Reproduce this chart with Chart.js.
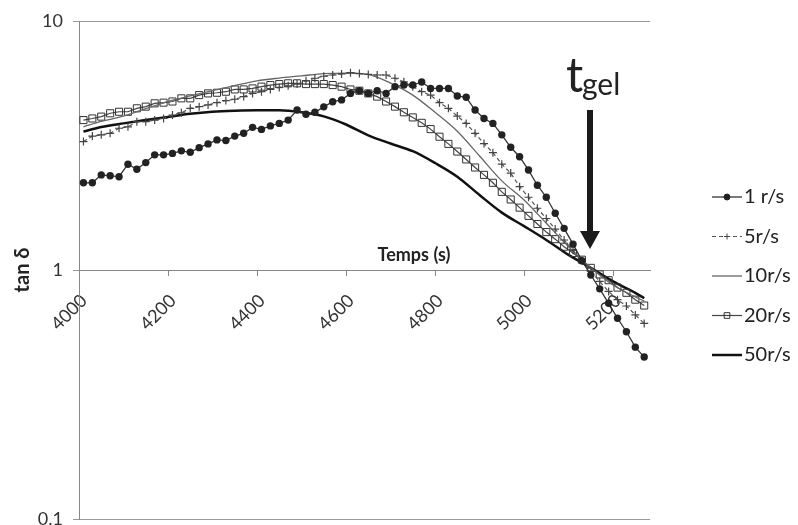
<!DOCTYPE html>
<html>
<head>
<meta charset="utf-8">
<script src="https://cdn.jsdelivr.net/npm/chart.js@4/dist/chart.umd.min.js"></script>
<style>
  body { margin: 0; background: #fff; }
  #wrap { width: 798px; height: 525px; }
</style>
</head>
<body>
<div id="wrap"><canvas id="myChart" width="798" height="525"></canvas></div>
<script>
// time axis (s) for the marked series, one point every 20 s
const times = [4010, 4030, 4050, 4070, 4090, 4110, 4130, 4150, 4170, 4190,
    4210, 4230, 4250, 4270, 4290, 4310, 4330, 4350, 4370, 4390,
    4410, 4430, 4450, 4470, 4490, 4510, 4530, 4550, 4570, 4590,
    4610, 4630, 4650, 4670, 4690, 4710, 4730, 4750, 4770, 4790,
    4810, 4830, 4850, 4870, 4890, 4910, 4930, 4950, 4970, 4990,
    5010, 5030, 5050, 5070, 5090, 5110, 5130, 5150, 5170, 5190,
    5210, 5230, 5250, 5270];
// time axis for the plain lines (10 r/s, 50 r/s)
const timesLine = [4010, 4050, 4100, 4150, 4200, 4250, 4300, 4350, 4400, 4450,
    4500, 4550, 4600, 4650, 4700, 4750, 4800, 4850, 4900, 4950,
    5000, 5050, 5100, 5150, 5200, 5250, 5270];

const tan1 = [2.24, 2.24, 2.41, 2.39, 2.37, 2.66, 2.54, 2.70, 2.90, 2.90,
    2.94, 3.01, 2.97, 3.10, 3.21, 3.33, 3.31, 3.45, 3.54, 3.74,
    3.67, 3.79, 3.88, 4.00, 4.39, 4.22, 4.30, 4.52, 4.74, 4.82,
    5.12, 5.25, 5.12, 5.25, 5.12, 5.45, 5.53, 5.53, 5.69, 5.36,
    5.36, 5.36, 5.00, 4.94, 4.39, 4.06, 3.88, 3.49, 3.11, 2.85,
    2.52, 2.19, 1.96, 1.69, 1.47, 1.27, 1.09, 0.955, 0.84, 0.735,
    0.64, 0.565, 0.49, 0.447];
const tan5 = [3.28, 3.45, 3.49, 3.54, 3.71, 3.76, 3.94, 3.94, 4.00, 4.06,
    4.19, 4.28, 4.46, 4.53, 4.60, 4.70, 4.79, 4.85, 4.97, 5.12,
    5.20, 5.31, 5.41, 5.49, 5.58, 5.75, 5.89, 6.00, 6.07, 6.13,
    6.20, 6.15, 6.10, 6.07, 6.07, 5.89, 5.70, 5.45, 5.20, 5.04,
    4.70, 4.46, 4.15, 3.88, 3.54, 3.22, 2.96, 2.66, 2.45, 2.16,
    1.96, 1.77, 1.61, 1.46, 1.32, 1.20, 1.09, 0.99, 0.90, 0.82,
    0.76, 0.717, 0.66, 0.61];
const tan10 = [3.76, 3.95, 4.15, 4.45, 4.75, 5.00, 5.25, 5.50, 5.75, 5.90,
    6.02, 6.15, 6.18, 6.10, 5.63, 5.04, 4.30, 3.61, 2.87, 2.28,
    1.91, 1.54, 1.24, 1.02, 0.87, 0.78, 0.75];
const tan20 = [4.00, 4.06, 4.13, 4.26, 4.32, 4.32, 4.46, 4.53, 4.67, 4.70,
    4.75, 4.89, 4.89, 5.04, 5.12, 5.15, 5.20, 5.31, 5.31, 5.36,
    5.45, 5.53, 5.58, 5.62, 5.62, 5.58, 5.58, 5.58, 5.53, 5.45,
    5.31, 5.25, 5.12, 4.97, 4.75, 4.53, 4.30, 4.10, 3.90, 3.68,
    3.43, 3.21, 2.99, 2.78, 2.58, 2.41, 2.24, 2.06, 1.92, 1.78,
    1.65, 1.53, 1.42, 1.33, 1.24, 1.17, 1.10, 1.02, 0.96, 0.91,
    0.85, 0.81, 0.76, 0.72];
const tan50 = [3.60, 3.75, 3.88, 4.00, 4.12, 4.24, 4.32, 4.36, 4.38, 4.38,
    4.30, 4.14, 3.84, 3.47, 3.22, 3.00, 2.69, 2.37, 2.00, 1.70,
    1.50, 1.32, 1.15, 1.02, 0.90, 0.81, 0.77];

const seriesNames = ['1 r/s', '5r/s', '10r/s', '20r/s', '50r/s'];
const xTicks = [4000, 4200, 4400, 4600, 4800, 5000, 5200];
const yTicks = [0.1, 1, 10];

function pts(xs, ys) {
    return xs.map((x, i) => ({ x: x, y: ys[i] }));
}

const font = 'Lato, "Open Sans", sans-serif';

// legend, axis title and the t_gel arrow
const extras = {
    id: 'extras',
    afterDraw(chart) {
        const ctx = chart.ctx;
        ctx.save();
        ctx.fillStyle = '#222';
        ctx.font = 'bold 18px ' + font;
        ctx.textAlign = 'center';
        ctx.textBaseline = 'middle';
        ctx.fillText('Temps (s)', 414, 255);

        // t_gel
        ctx.textAlign = 'left';
        ctx.textBaseline = 'alphabetic';
        ctx.font = '48px ' + font;
        ctx.fillText('t', 566, 92);
        ctx.font = '30px ' + font;
        ctx.fillText('gel', 582, 95);

        // arrow
        ctx.fillStyle = '#1a1a1a';
        ctx.fillRect(587, 110, 6, 123);
        ctx.beginPath();
        ctx.moveTo(580, 231);
        ctx.lineTo(600, 231);
        ctx.lineTo(590, 249);
        ctx.closePath();
        ctx.fill();

        // legend
        chart.data.datasets.forEach((ds, i) => {
            const y = 197 + 39.5 * i;
            ctx.strokeStyle = ds.borderColor;
            ctx.lineWidth = ds.borderWidth;
            ctx.setLineDash(ds.borderDash || []);
            ctx.beginPath();
            ctx.moveTo(712, y);
            ctx.lineTo(742, y);
            ctx.stroke();
            ctx.setLineDash([]);
            if (ds.pointRadius > 0) {
                ctx.fillStyle = ds.pointBackgroundColor;
                ctx.strokeStyle = ds.pointBorderColor;
                ctx.lineWidth = 1;
                Chart.helpers.drawPoint(ctx, {
                    pointStyle: ds.pointStyle,
                    radius: ds.pointStyle === 'rect' ? 4 : 3,
                    rotation: 0,
                    borderWidth: 1
                }, 727, y);
            }
            ctx.fillStyle = '#222';
            ctx.font = '20px ' + font;
            ctx.textAlign = 'left';
            ctx.textBaseline = 'middle';
            ctx.fillText(ds.label, 744, y);
        });
        ctx.restore();
    }
};

let chart = document.getElementById('myChart').getContext('2d');
let myChart = new Chart(chart, {
    type: 'line',
    data: {
        datasets: [{
            label: seriesNames[0],
            data: pts(times, tan1),
            borderColor: '#333',
            borderWidth: 1.3,
            pointStyle: 'circle',
            pointRadius: 3.7,
            pointBackgroundColor: '#222',
            pointBorderColor: '#222',
            pointBorderWidth: 0
        }, {
            label: seriesNames[1],
            data: pts(times, tan5),
            borderColor: '#555',
            borderWidth: 1.2,
            borderDash: [4, 3],
            pointStyle: 'cross',
            pointRadius: 4,
            pointBackgroundColor: '#444',
            pointBorderColor: '#444',
            pointBorderWidth: 1.2
        }, {
            label: seriesNames[2],
            data: pts(timesLine, tan10),
            borderColor: '#666',
            borderWidth: 1.3,
            pointRadius: 0,
            cubicInterpolationMode: 'monotone'
        }, {
            label: seriesNames[3],
            data: pts(times, tan20),
            borderColor: '#444',
            borderWidth: 1.2,
            pointStyle: 'rect',
            pointRadius: 5,
            pointBackgroundColor: 'rgba(255,255,255,0)',
            pointBorderColor: '#333',
            pointBorderWidth: 1
        }, {
            label: seriesNames[4],
            data: pts(timesLine, tan50),
            borderColor: '#111',
            borderWidth: 2.5,
            pointRadius: 0,
            cubicInterpolationMode: 'monotone'
        }]
    },
    options: {
        responsive: false,
        animation: false,
        layout: { padding: { left: 0, right: 148, top: 21, bottom: 6 } },
        plugins: {
            legend: { display: false },
            tooltip: { enabled: false }
        },
        scales: {
            x: {
                type: 'linear',
                position: { y: 1 },
                min: 4000,
                max: 5283,
                afterBuildTicks: s => { s.ticks = xTicks.map(v => ({ value: v })); },
                afterFit: s => { s.paddingLeft = 0; s.paddingRight = 0; },
                grid: { drawOnChartArea: false, drawTicks: true, tickLength: 5, color: '#888' },
                border: { color: '#888', width: 1 },
                ticks: {
                    autoSkip: false,
                    minRotation: 45,
                    maxRotation: 45,
                    padding: 15,
                    labelOffset: 5,
                    color: '#333',
                    font: { family: font, size: 18 },
                    callback: v => String(v)
                }
            },
            y: {
                type: 'logarithmic',
                position: 'left',
                min: 0.1,
                max: 10,
                afterBuildTicks: s => { s.ticks = yTicks.map(v => ({ value: v })); },
                afterFit: s => { s.width = 79; s.paddingTop = 0; s.paddingBottom = 0; },
                grid: { color: '#999', tickLength: 6 },
                border: { color: '#888' },
                ticks: {
                    padding: 10,
                    color: '#333',
                    font: { family: font, size: 18 },
                    callback: v => String(v)
                },
                title: {
                    display: true,
                    text: 'tan δ',
                    color: '#222',
                    font: { family: font, size: 20, weight: 'bold' },
                    padding: { top: 11, bottom: 0 }
                }
            }
        }
    },
    plugins: [extras]
});
</script>
</body>
</html>
